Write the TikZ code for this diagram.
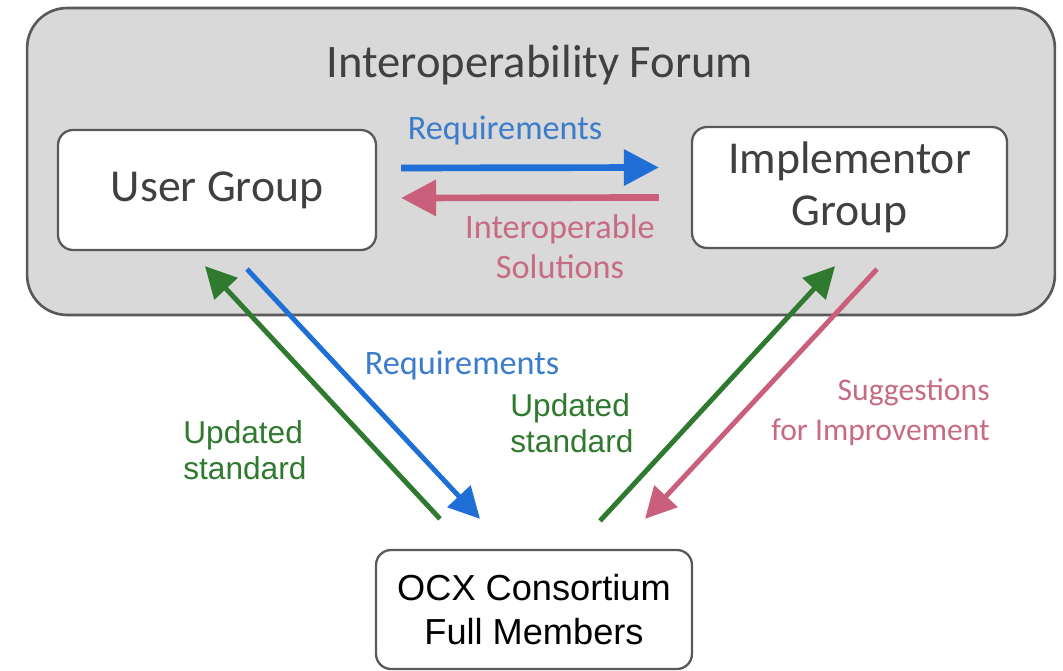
\documentclass[tikz,border=0pt]{standalone}
\usepackage{fontspec}
\setmainfont{Carlito}
\newfontfamily\arialfont{Liberation Sans}
\usepackage{tikz}
\usetikzlibrary{arrows.meta, positioning}
\definecolor{forumgray}{HTML}{D9D9D9}
\definecolor{edgegray}{HTML}{595959}
\definecolor{titlegray}{HTML}{404040}
\definecolor{reqblue}{HTML}{1F6FD6}
\definecolor{reqtext}{HTML}{3B7CCB}
\definecolor{solpink}{HTML}{C95F7B}
\definecolor{soltext}{HTML}{C76B84}
\definecolor{stdgreen}{HTML}{2F7A2F}

\begin{document}
\begin{tikzpicture}[x=0.02cm, y=-0.02cm,
        group/.style={rectangle, draw=edgegray, fill=white, line width=1.3pt, rounded corners=0.3cm, text=titlegray, align=center, font=\fontsize{26}{29.5}\selectfont},
        flow/.style={line width=2.8pt, -{Triangle[length=0.62cm, width=0.62cm]}},
        sideflow/.style={line width=3.8pt, -{Triangle[length=0.7cm, width=0.7cm]}},
        lbl/.style={inner sep=0pt, font=\fontsize{19.5}{22.7}\selectfont},
        stdlbl/.style={inner sep=0pt, align=left, text=stdgreen, font=\arialfont\fontsize{18}{20.4}\selectfont}]
        \useasboundingbox (0,0) rectangle (1063,671);

        % Nodes
        \node [rectangle, draw=edgegray, fill=forumgray, line width=1.5pt, rounded corners=0.8cm,
               minimum width=20.56cm, minimum height=6.14cm] (forum) at (541,161.5) {};
        \node [inner sep=0pt, text=titlegray, font=\fontsize{26.5}{30}\selectfont] (title) at (540,65) {Interoperability Forum};
        \node [group, minimum width=6.36cm, minimum height=2.4cm] (user) at (217,190) {User Group};
        \node [group, minimum width=6.3cm, minimum height=2.42cm] (impl) at (849.5,187.5) {Implementor\\Group};
        \node [group, text=black, font=\arialfont\fontsize{20.6}{25.5}\selectfont,
               minimum width=6.32cm, minimum height=2.38cm] (ocx) at (534,609.5) {OCX Consortium\\Full Members};

        % Arrows inside the forum
        \draw [sideflow, reqblue] ([shift={(24,-22)}]user.east) -- ([shift={(-32,-20)}]impl.west);
        \draw [sideflow, solpink] ([shift={(-32,10)}]impl.west) -- ([shift={(24,8)}]user.east);

        % Arrows to and from the consortium
        \draw [flow, stdgreen] ([shift={(-94,-30)}]ocx.north) -- ([shift={(-12,15)}]user.south);
        \draw [flow, reqblue] ([shift={(30,18)}]user.south) -- ([shift={(-54,-30)}]ocx.north);
        \draw [flow, stdgreen] ([shift={(66,-28)}]ocx.north) -- ([shift={(-14.5,17)}]impl.south);
        \draw [flow, solpink] ([shift={(27.5,20)}]impl.south) -- ([shift={(111,-30)}]ocx.north);

        % Labels
        \node [lbl, text=reqtext] (req-top) at (505,130) {Requirements};
        \node [lbl, text=soltext, align=center] (sol) at (560,247) {Interoperable\\Solutions};
        \node [lbl, text=reqtext] (req-low) at (462,365) {Requirements};
        \node [stdlbl, anchor=west] (std-left) at (183,450) {Updated\\standard};
        \node [stdlbl, anchor=west] (std-mid) at (510,423) {Updated\\standard};
        \node [lbl, text=soltext, align=right, anchor=east, font=\fontsize{18}{22.7}\selectfont] (sugg) at (990,412) {Suggestions\\for Improvement};
\end{tikzpicture}
\end{document}
